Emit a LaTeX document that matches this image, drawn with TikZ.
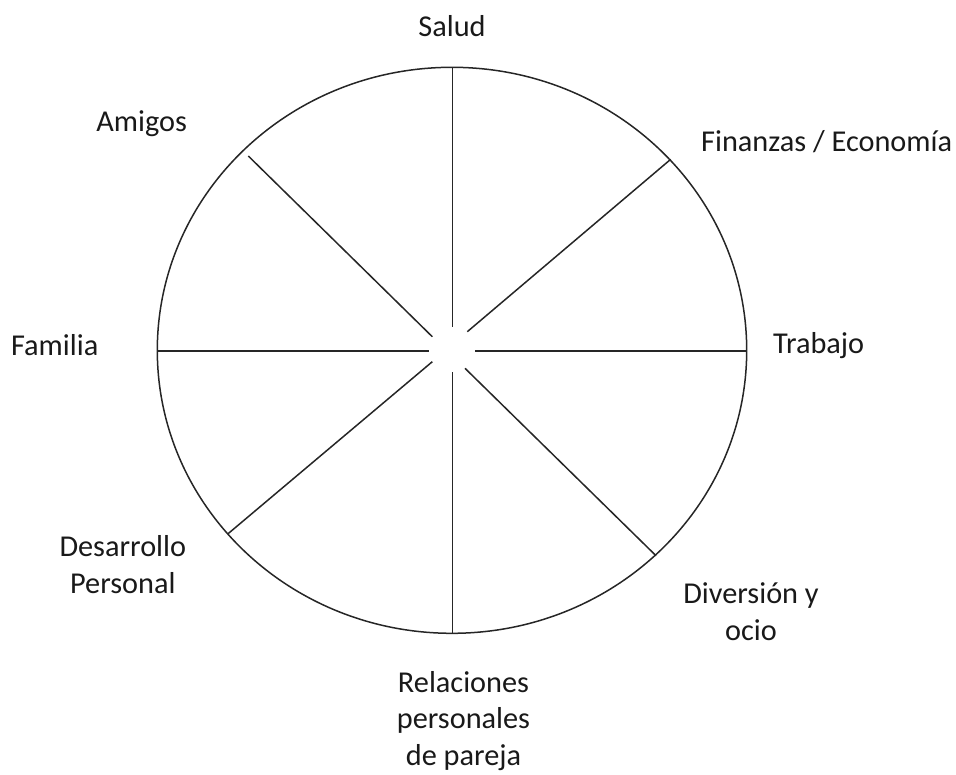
\documentclass[tikz,border=0pt]{standalone}
\usepackage{fontspec}
\setmainfont{Carlito}
\begin{document}
\begin{tikzpicture}[x=1pt,y=-1pt,
  lbl/.style={font=\fontsize{30.3}{36.6}\selectfont, text=black!90, inner sep=0pt, align=center, anchor=base},
  spoke/.style={draw=black!85, line width=1.5pt},
  rim/.style={draw=black!85, line width=1.5pt}]
\useasboundingbox (0,0) rectangle (956,774);
\draw[rim] (452,350.3) ellipse [x radius=294.7, y radius=283];
% spoke end points
\coordinate (nO) at (452.7,67.3);  \coordinate (nI) at (452.7,327);
\coordinate (sO) at (452.7,633.3); \coordinate (sI) at (452.7,372);
\coordinate (wO) at (157.3,351);   \coordinate (wI) at (429,351);
\coordinate (eO) at (746.7,351);   \coordinate (eI) at (475,351);
\coordinate (nwO) at (248.3,156);  \coordinate (nwI) at (432.3,336.7);
\coordinate (neO) at (670.7,159.3);\coordinate (neI) at (467.3,331.7);
\coordinate (swO) at (227.7,534);  \coordinate (swI) at (432.3,361.7);
\coordinate (seO) at (656,555.7);  \coordinate (seI) at (465,368.3);
\foreach \d in {n,s,w,e,nw,ne,sw,se} \draw[spoke] (\d O) -- (\d I);
% labels (multi-line nodes: base = last line's baseline)
\node[lbl] (salud) at (452,36) {Salud};
\node[lbl] (amigos) at (141.7,131) {Amigos};
\node[lbl] (finanzas) at (826.7,151) {Finanzas / Economía};
\node[lbl] (trabajo) at (818.7,353.5) {Trabajo};
\node[lbl] (familia) at (54.7,355) {Familia};
\node[lbl] (desarrollo) at (122.8,593.3) {Desarrollo\\Personal};
\node[lbl] (diversion) at (751,640) {Diversión y\\ocio};
\node[lbl] (relaciones) at (463.5,765.5) {Relaciones\\personales\\de pareja};
\end{tikzpicture}
\end{document}
